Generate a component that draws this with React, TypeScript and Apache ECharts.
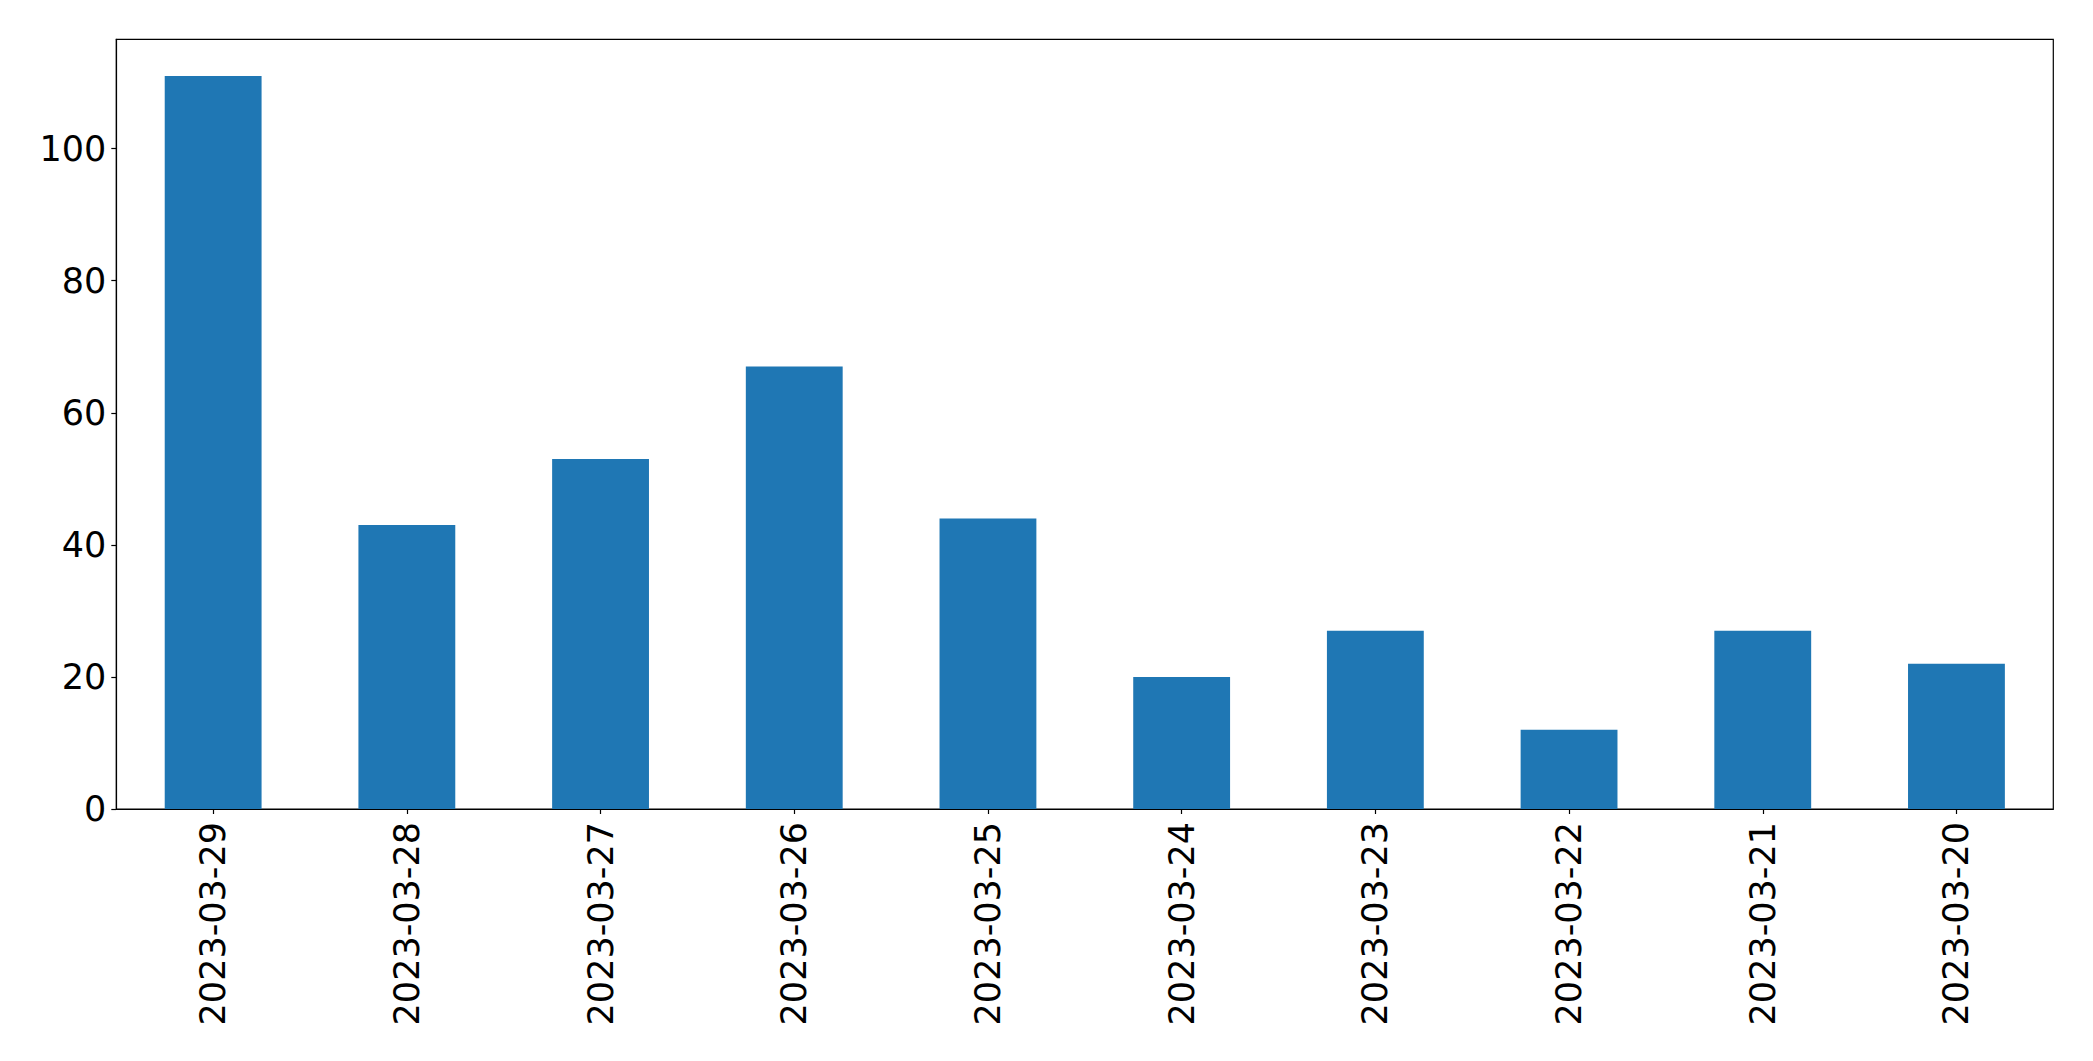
import React, { useEffect, useRef } from "react";
import * as echarts from "echarts";

const categories = [
  "2023-03-29",
  "2023-03-28",
  "2023-03-27",
  "2023-03-26",
  "2023-03-25",
  "2023-03-24",
  "2023-03-23",
  "2023-03-22",
  "2023-03-21",
  "2023-03-20",
];
const values = [111, 43, 53, 67, 44, 20, 27, 12, 27, 22];
const yTicks = [0, 20, 40, 60, 80, 100];
const yMax = 116.55;

export default function App() {
  const ref = useRef<HTMLDivElement>(null);
  useEffect(() => {
    if (!ref.current) return;
    const chart = echarts.init(ref.current, null, { renderer: "svg" });
    const font = "DejaVu Sans";
    chart.setOption({
      animation: false,
      backgroundColor: "#ffffff",
      grid: {
        left: 116.3,
        top: 39.3,
        right: 39.7,
        bottom: 252,
        show: true,
        borderColor: "#000000",
        borderWidth: 1.2,
        backgroundColor: "transparent",
      },
      xAxis: {
        type: "category",
        data: categories,
        boundaryGap: true,
        axisLine: { show: true, lineStyle: { color: "#000000", width: 1.2 } },
        axisTick: {
          show: true,
          alignWithLabel: true,
          length: 5,
          lineStyle: { color: "#000000", width: 1.2 },
        },
        axisLabel: {
          rotate: 90,
          margin: 13,
          color: "#000000",
          fontFamily: font,
          fontSize: 35,
          interval: 0,
        },
        splitLine: { show: false },
      },
      yAxis: {
        type: "value",
        min: 0,
        max: yMax,
        axisLine: { show: true, lineStyle: { color: "#000000", width: 1.2 } },
        axisTick: {
          show: true,
          length: 5,
          lineStyle: { color: "#000000", width: 1.2 },
          customValues: yTicks,
        },
        axisLabel: {
          margin: 10,
          color: "#000000",
          fontFamily: font,
          fontSize: 35,
          customValues: yTicks,
        },
        splitLine: { show: false },
      },
      series: [
        {
          type: "bar",
          data: values,
          barWidth: "50%",
          itemStyle: { color: "#1f77b4" },
        },
      ],
    });
    return () => chart.dispose();
  }, []);
  return (
    <div
      ref={ref}
      style={{ position: "fixed", left: 0, top: 0, width: 2093, height: 1061, background: "#fff" }}
    />
  );
}
